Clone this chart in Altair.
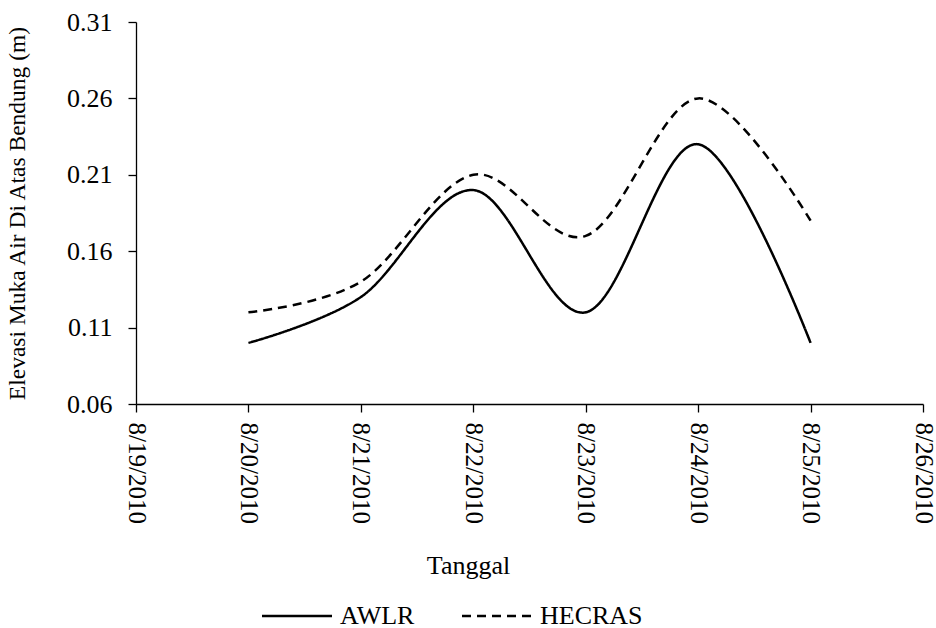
import altair as alt
import pandas as pd

dates = ["2010-08-20", "2010-08-21", "2010-08-22", "2010-08-23", "2010-08-24", "2010-08-25"]
awlr = [0.10, 0.13, 0.20, 0.12, 0.23, 0.10]
hecras = [0.12, 0.14, 0.21, 0.17, 0.26, 0.18]
series_names = ["AWLR", "HECRAS"]
y_ticks = [0.06, 0.11, 0.16, 0.21, 0.26, 0.31]
tick_days = [19, 20, 21, 22, 23, 24, 25, 26]

rows = []
for name, vals in zip(series_names, [awlr, hecras]):
    for d, v in zip(dates, vals):
        rows.append({"date": d, "value": v, "series": name})
df = pd.DataFrame(rows)

FONT = "Liberation Serif"
FS = 25

x_ticks = [alt.DateTime(year=2010, month=8, date=d, utc=True) for d in tick_days]

chart = alt.Chart(df).mark_line(interpolate="cardinal", strokeWidth=2.5, color="black").encode(
    x=alt.X(
        "date:T",
        scale=alt.Scale(type="utc", domain=[x_ticks[0], x_ticks[-1]], nice=False),
        axis=alt.Axis(
            values=x_ticks,
            labelExpr="utcFormat(datum.value, '%-m/%-d/%Y')",
            labelAngle=90,
            labelPadding=10,
            tickSize=8,
            title="Tanggal",
            titleFontSize=26,
            titleX=332,
            titleY=169,
            titleAlign="center",
            titleBaseline="alphabetic",
            titleAnchor="start",
        ),
    ),
    y=alt.Y(
        "value:Q",
        scale=alt.Scale(domain=[0.06, 0.31], nice=False, zero=False),
        axis=alt.Axis(
            values=y_ticks,
            format=".2f",
            tickSize=8,
            labelPadding=16,
            labelFontSize=26,
            title="Elevasi Muka Air Di Atas Bendung (m)",
            titleFontSize=23.5,
            titleX=-112,
            titleY=191,
            titleAngle=-90,
            titleAlign="center",
            titleBaseline="alphabetic",
        ),
    ),
    strokeDash=alt.StrokeDash(
        "series:N",
        scale=alt.Scale(domain=series_names, range=[[1, 0], [9, 6]]),
        legend=alt.Legend(
            title=None,
            orient="none",
            direction="horizontal",
            legendX=148,
            legendY=581,
            symbolType="M-5,0L5,0",
            symbolSize=196,
            symbolStrokeWidth=2.5,
            symbolStrokeColor="black",
            labelFont=FONT,
            labelFontSize=26,
            labelColor="black",
            labelOffset=30,
            columnPadding=42,
            padding=0,
        ),
    ),
).properties(
    width=787,
    height=382,
    background="white",
    autosize=alt.AutoSizeParams(type="none"),
    padding={"left": 136, "top": 22, "right": 13, "bottom": 224},
).configure_axis(
    grid=False,
    domainColor="black",
    domainWidth=1.3,
    tickColor="black",
    tickWidth=1.3,
    labelFont=FONT,
    labelFontSize=FS,
    labelColor="black",
    titleFont=FONT,
    titleFontWeight="normal",
    titleColor="black",
).configure_view(stroke=None)

chart.save("out.html", embed_options={"renderer": "svg", "actions": False})
